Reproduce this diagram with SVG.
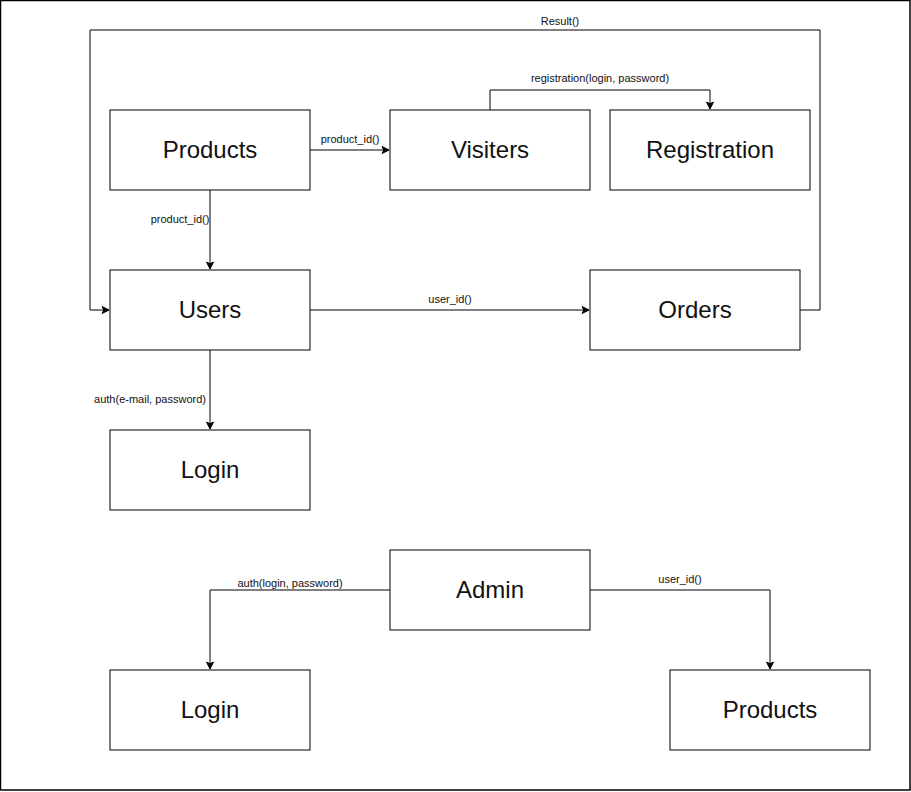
<svg xmlns="http://www.w3.org/2000/svg" width="911" height="792" viewBox="0 0 911 792">
<style>
.box{fill:#fff;stroke:#000;stroke-width:1}
.nt{font-family:"Liberation Sans",Arial,sans-serif;font-size:24px;fill:#111;text-anchor:middle;dominant-baseline:central}
.el{font-family:"Liberation Sans",Arial,sans-serif;font-size:11px;fill:#111;text-anchor:middle}
.ln{fill:none;stroke:#000;stroke-width:1}
</style>
<defs>
<marker id="arr" markerWidth="10" markerHeight="10" refX="8" refY="5" orient="auto" markerUnits="userSpaceOnUse">
<path d="M1,1.5 L8,5 L1,8.5 L2.8,5 Z" fill="#000" stroke="#000" stroke-width="1"/>
</marker>
</defs>
<rect x="0.5" y="0.5" width="909.5" height="789.5" fill="#fff" stroke="#000" stroke-width="1.5"/>
<g id="connectors">
<path class="ln" d="M310,150 H389" marker-end="url(#arr)"/>
<text class="el" x="350" y="143">product_id()</text>
<path class="ln" d="M490,110 V90 H710 V109" marker-end="url(#arr)"/>
<text class="el" x="600" y="82">registration(login, password)</text>
<path class="ln" d="M210,190 V269" marker-end="url(#arr)"/>
<text class="el" x="180" y="223">product_id()</text>
<path class="ln" d="M310,310 H589" marker-end="url(#arr)"/>
<text class="el" x="450" y="303">user_id()</text>
<path class="ln" d="M800,310 H820 V30 H90 V310 H109" marker-end="url(#arr)"/>
<text class="el" x="560" y="25">Result()</text>
<path class="ln" d="M210,350 V429" marker-end="url(#arr)"/>
<text class="el" x="150" y="403">auth(e-mail, password)</text>
<path class="ln" d="M390,590 H210 V669" marker-end="url(#arr)"/>
<text class="el" x="290" y="587">auth(login, password)</text>
<path class="ln" d="M590,590 H770 V669" marker-end="url(#arr)"/>
<text class="el" x="680" y="583">user_id()</text>
</g>
<g id="products"><rect class="box" x="110" y="110" width="200" height="80"/><text class="nt" x="210" y="149">Products</text></g>
<g id="visiters"><rect class="box" x="390" y="110" width="200" height="80"/><text class="nt" x="490" y="149">Visiters</text></g>
<g id="registration"><rect class="box" x="610" y="110" width="200" height="80"/><text class="nt" x="710" y="149">Registration</text></g>
<g id="users"><rect class="box" x="110" y="270" width="200" height="80"/><text class="nt" x="210" y="309">Users</text></g>
<g id="orders"><rect class="box" x="590" y="270" width="210" height="80"/><text class="nt" x="695" y="309">Orders</text></g>
<g id="login"><rect class="box" x="110" y="430" width="200" height="80"/><text class="nt" x="210" y="469">Login</text></g>
<g id="admin"><rect class="box" x="390" y="550" width="200" height="80"/><text class="nt" x="490" y="589">Admin</text></g>
<g id="login2"><rect class="box" x="110" y="670" width="200" height="80"/><text class="nt" x="210" y="709">Login</text></g>
<g id="products2"><rect class="box" x="670" y="670" width="200" height="80"/><text class="nt" x="770" y="709">Products</text></g>
</svg>
